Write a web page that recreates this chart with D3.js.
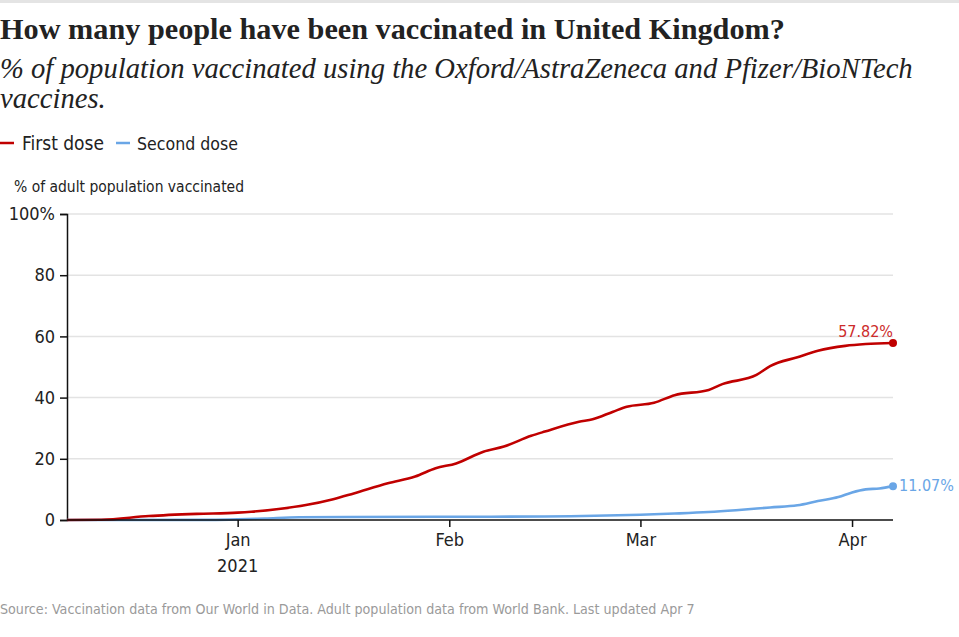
<!DOCTYPE html>
<html><head><meta charset="utf-8">
<script src="https://cdn.jsdelivr.net/npm/d3@7"></script>
<style>
body{margin:0;background:#fff;}
svg{display:block;}
</style></head>
<body><svg id="c" width="959" height="637"></svg>
<script>
const title = "How many people have been vaccinated in United Kingdom?";
const subtitle1 = "% of population vaccinated using the Oxford/AstraZeneca and Pfizer/BioNTech";
const subtitle2 = "vaccines.";
const seriesNames = ["First dose", "Second dose"];
const yLabel = "% of adult population vaccinated";
const source = "Source: Vaccination data from Our World in Data. Adult population data from World Bank. Last updated Apr 7";
const yTicks = [0, 20, 40, 60, 80, 100];
const xTickDates = ["2021-01-01", "2021-02-01", "2021-03-01", "2021-04-01"];
const xTickLabels = ["Jan", "Feb", "Mar", "Apr"];

const firstDates = ["2020-12-07","2020-12-12","2020-12-19","2020-12-26","2021-01-01","2021-01-03","2021-01-07","2021-01-11","2021-01-15","2021-01-18","2021-01-23","2021-01-27","2021-01-30","2021-02-02","2021-02-06","2021-02-09","2021-02-13","2021-02-15","2021-02-20","2021-02-22","2021-02-25","2021-02-27","2021-03-03","2021-03-06","2021-03-11","2021-03-13","2021-03-18","2021-03-20","2021-03-24","2021-03-27","2021-03-31","2021-04-03","2021-04-07"];
const firstValues = [0,0.1,1.3,2.0,2.4,2.7,3.6,4.9,6.8,8.7,12.0,14.2,16.9,18.5,22.3,24.0,27.5,28.9,32.1,32.9,35.4,37.0,38.3,40.8,42.5,44.4,47.4,50.3,53.2,55.3,56.9,57.5,57.82];

const secondDates = ["2020-12-07","2020-12-28","2021-01-01","2021-01-05","2021-01-10","2021-01-17","2021-02-01","2021-02-15","2021-03-01","2021-03-06","2021-03-11","2021-03-15","2021-03-20","2021-03-24","2021-03-27","2021-03-30","2021-04-01","2021-04-03","2021-04-05","2021-04-07"];
const secondValues = [0,0.05,0.2,0.5,0.9,1.0,1.05,1.15,1.7,2.1,2.6,3.2,4.1,4.8,6.2,7.5,9.0,10.0,10.3,11.07];

const colors = ["#c00000", "#6aa6e6"];
const labelColors = ["#cc2b2b", "#6aa6e6"];

const parse = d3.timeParse("%Y-%m-%d");
const svg = d3.select("#c");
const sans = "'Liberation Sans Narrow','DejaVu Sans Condensed','Liberation Sans',sans-serif";
const serif = "'Liberation Serif','DejaVu Serif',serif";

function fit(sel, w){
  const n = sel.node();
  let fs = parseFloat(sel.attr("font-size"));
  const cur = n.getComputedTextLength();
  if (cur>0){ sel.attr("font-size", (fs*w/cur).toFixed(2)); }
  return sel;
}

// top border
svg.append("rect").attr("x",0).attr("y",0).attr("width",959).attr("height",3).attr("fill","#e4e4e4");

fit(svg.append("text").attr("x",0).attr("y",39).attr("font-family",serif).attr("font-weight","bold")
  .attr("font-size",28).attr("fill","#222").text(title), 785);
const st1 = svg.append("text").attr("x",0).attr("y",78).attr("font-family",serif).attr("font-style","italic")
  .attr("font-size",28).attr("fill","#222").text(subtitle1);
fit(st1, 913);
svg.append("text").attr("x",0).attr("y",108).attr("font-family",serif).attr("font-style","italic")
  .attr("font-size",st1.attr("font-size")).attr("fill","#222").text(subtitle2);

// legend
const lg = [{x:0,tx:22,w:82},{x:116,tx:137,w:101}];
seriesNames.forEach((s,i)=>{
  svg.append("line").attr("x1",lg[i].x).attr("x2",lg[i].x+14).attr("y1",143).attr("y2",143)
    .attr("stroke",colors[i]).attr("stroke-width",2.5);
  fit(svg.append("text").attr("x",lg[i].tx).attr("y",150).attr("font-family",sans).attr("font-size",20)
    .attr("fill","#222").text(s), lg[i].w);
});

fit(svg.append("text").attr("x",14).attr("y",192).attr("font-family",sans).attr("font-size",16)
  .attr("fill","#222").text(yLabel), 230);

const margin = {l:67, r:893, t:214, b:520};
const x = d3.scaleTime().domain([parse("2020-12-07"), parse("2021-04-07")]).range([margin.l, margin.r]);
const y = d3.scaleLinear().domain([0,100]).range([margin.b, margin.t]);

// grid
svg.append("g").selectAll("line").data(yTicks.filter(d=>d>0)).join("line")
  .attr("x1",margin.l).attr("x2",margin.r).attr("y1",d=>y(d)).attr("y2",d=>y(d))
  .attr("stroke","#e3e3e3").attr("stroke-width",1.5);

// y axis
const yAxis = svg.append("g").attr("transform",`translate(${margin.l},0)`)
  .call(d3.axisLeft(y).tickValues(yTicks).tickSize(7).tickPadding(5).tickFormat(d=>d===100?"100%":d));
yAxis.select(".domain").attr("stroke","#111").attr("stroke-width",1.5);
yAxis.selectAll(".tick line").attr("stroke","#111").attr("stroke-width",1.5);
yAxis.selectAll("text").attr("font-family",sans).attr("font-size",18).attr("fill","#222");

// lines
const series = [
  firstDates.map((d,i)=>({date:parse(d), v:firstValues[i]})),
  secondDates.map((d,i)=>({date:parse(d), v:secondValues[i]}))
];
const line = d3.line().x(d=>x(d.date)).y(d=>y(d.v)).curve(d3.curveMonotoneX);
[1,0].forEach(i=>{
  svg.append("path").datum(series[i]).attr("d",line).attr("fill","none")
    .attr("stroke",colors[i]).attr("stroke-width",2.6).attr("stroke-linejoin","round");
});

// x axis
const xAxis = svg.append("g").attr("transform",`translate(0,${margin.b})`)
  .call(d3.axisBottom(x).tickValues(xTickDates.map(parse)).tickSize(7).tickPadding(6)
    .tickFormat((d,i)=>xTickLabels[i]));
xAxis.select(".domain").attr("stroke","#111").attr("stroke-width",1.5).attr("d",`M${margin.l},0H${margin.r}`);
xAxis.selectAll(".tick line").attr("stroke","#111").attr("stroke-width",1.5);
xAxis.selectAll("text").attr("font-family",sans).attr("font-size",18).attr("fill","#222");
svg.append("text").attr("x",x(parse(xTickDates[0]))).attr("y",572).attr("text-anchor","middle")
  .attr("font-family",sans).attr("font-size",18).attr("fill","#222").text("2021");

// end points
series.forEach((s,i)=>{
  const last = s[s.length-1];
  svg.append("circle").attr("cx",x(last.date)).attr("cy",y(last.v)).attr("r",4).attr("fill",colors[i]);
});
const l0 = series[0][series[0].length-1];
svg.append("text").attr("x",x(l0.date)).attr("y",y(l0.v)-6).attr("text-anchor","end")
  .attr("font-family",sans).attr("font-size",16).attr("fill",labelColors[0]).text(l0.v.toFixed(2)+"%");
const l1 = series[1][series[1].length-1];
svg.append("text").attr("x",x(l1.date)+6).attr("y",y(l1.v)+5).attr("text-anchor","start")
  .attr("font-family",sans).attr("font-size",16).attr("fill",labelColors[1]).text(l1.v.toFixed(2)+"%");

fit(svg.append("text").attr("x",0).attr("y",614).attr("font-family",sans).attr("font-size",15)
  .attr("fill","#9a9a9a").text(source), 695);
</script></body></html>
